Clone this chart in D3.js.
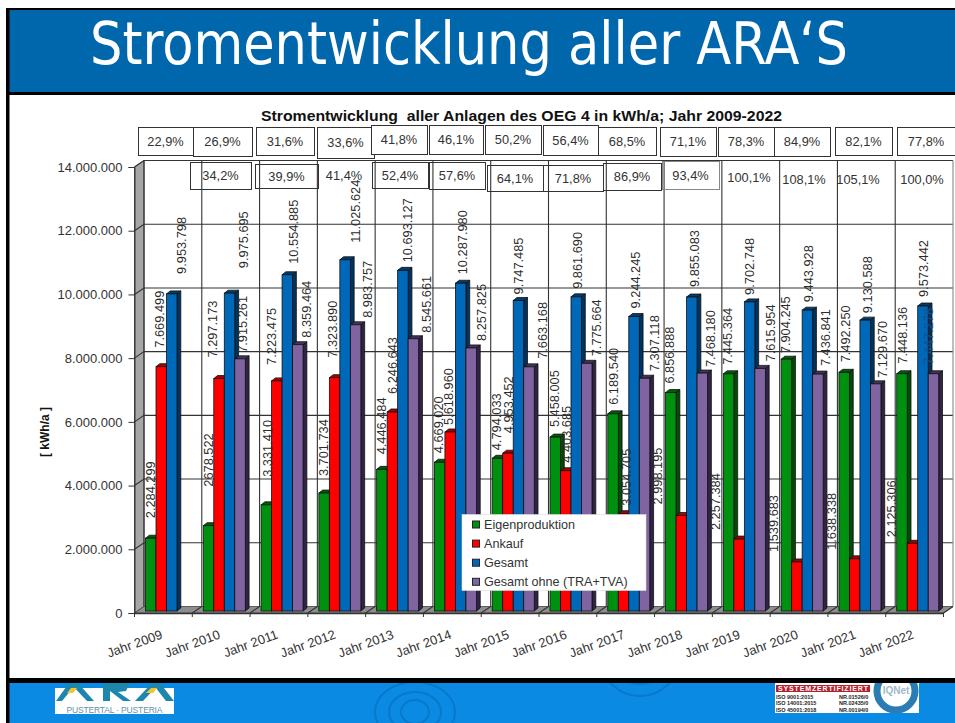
<!DOCTYPE html>
<html><head><meta charset="utf-8">
<script src="https://cdnjs.cloudflare.com/ajax/libs/d3/7.8.5/d3.min.js"></script>
<style>html,body{margin:0;padding:0;background:#fff;overflow:hidden}svg{display:block}text{font-family:"Liberation Sans",Arial,sans-serif}</style>
</head><body><svg id="c" width="955" height="723"></svg>
<script>
const categories = ["Jahr 2009","Jahr 2010","Jahr 2011","Jahr 2012","Jahr 2013","Jahr 2014","Jahr 2015","Jahr 2016","Jahr 2017","Jahr 2018","Jahr 2019","Jahr 2020","Jahr 2021","Jahr 2022"];
const seriesNames = ["Eigenproduktion","Ankauf","Gesamt","Gesamt ohne (TRA+TVA)"];
const eigenproduktion = [2284299,2678522,3331410,3701734,4446484,4669020,4794033,5458005,6189540,6856888,7445364,7904245,7492250,7448136];
const ankauf = [7669499,7297173,7223475,7323890,6246643,5618960,4953452,4403685,3054705,2998195,2257384,1539683,1638338,2125306];
const gesamt = [9953798,9975695,10554885,11025624,10693127,10287980,9747485,9861690,9244245,9855083,9702748,9443928,9130588,9573442];
const gesamtOhne = [null,7915261,8359464,8983757,8545661,8257825,7663168,7775664,7307118,7468180,7615954,7436841,7129670,7447278];
const valueTicks = [0,2000000,4000000,6000000,8000000,10000000,12000000,14000000];
const pctRow1 = ["22,9%","26,9%","31,6%","33,6%","41,8%","46,1%","50,2%","56,4%","68,5%","71,1%","78,3%","84,9%","82,1%","77,8%"];
const pctRow2 = ["34,2%","39,9%","41,4%","52,4%","57,6%","64,1%","71,8%","86,9%","93,4%","100,1%","108,1%","105,1%","100,0%"];
const chartTitle = "Stromentwicklung  aller Anlagen des OEG 4 in kWh/a; Jahr 2009-2022";
const slideTitle = "Stromentwicklung aller ARA‘S";

// ---- layout only (hand-placed annotations of the source slide) ----
const box1 = [[138,193,127,155],[193,252,127,156],[256,314,127,155],[317,374,127,158],[371,427,125,154],[429,483,125,154],[485,541,125,154],[543,598,125,155],[598,656,127,155],[660,716,127,156],[718,774,127,156],[774,830,127,156],[835,892,127,155],[897,955,127,155]];
const box2 = [[190,251,162,189,1],[255,318,164,188,1],[316,372,162,189,0],[372,428,162,188,1],[429,485,162,189,1],[487,543,165,191,1],[543,603,165,191,1],[603,661,163,190,1],[662,719,161,189,2],[721,777,163,191,0],[776,832,165,193,0],[830,886,165,193,0],[894,950,165,193,0]];
const labelDx = [
 [0,0,1,-1,-1,-1,-1,-1,0,-1,-1,-1,1,0],
 [-2,-7,-5,-2,0,-2,0,1,3,-24,-24,-24,-23,-21],
 [10,14,6,10,4,2,0,1,1,3,0,1,2,0],
 [0,2,9,12,13,10,13,10,10,8,10,7,7,-5]];
const labelGap = [
 [20,39,28,17,15,9,8,10,9,9,9,6,10,10],
 [19,21,16,20,18,7,20,8,8,11,9,10,9,6],
 [20,25,11,17,8,9,6,8,8,10,7,8,7,9],
 [0,6,7,7,6,7,8,7,7,6,7,8,6,9]];

const svg = d3.select("#c");
const series = [eigenproduktion, ankauf, gesamt, gesamtOhne];
const colors = [
 {f:"#009010",t:"#005c0a",s:"#004c08"},
 {f:"#ff0000",t:"#a80000",s:"#900000"},
 {f:"#0068b8",t:"#003c6c",s:"#003460"},
 {f:"#8064a2",t:"#44345c",s:"#302444"}];

// slide frame
svg.append("rect").attr("x",6).attr("y",8).attr("width",949).attr("height",715).attr("fill","#000");
svg.append("rect").attr("x",9.5).attr("y",10).attr("width",946).attr("height",82).attr("fill","#0067ac");
svg.append("rect").attr("x",9.5).attr("y",95).attr("width",946).attr("height",583).attr("fill","#fff");
svg.append("rect").attr("x",9.5).attr("y",683).attr("width",946).attr("height",40).attr("fill","#0a8ae2");
svg.append("text").text(slideTitle).attr("x",90).attr("y",64).attr("fill","#fff")
 .style("font-family","'DejaVu Sans Condensed','DejaVu Sans'").style("font-size","58px")
 .attr("textLength",758).attr("lengthAdjust","spacingAndGlyphs");

// footer ripples
svg.append("clipPath").attr("id","fc").append("rect").attr("x",9.5).attr("y",683).attr("width",946).attr("height",40);
const rip = svg.append("g").attr("clip-path","url(#fc)").attr("fill","none").attr("stroke","#0878cc");
[[415,712,14,12],[415,712,26,20],[415,712,40,30],[640,660,26,24],[640,660,38,36]].forEach(d=>{
 rip.append("ellipse").attr("cx",d[0]).attr("cy",d[1]).attr("rx",d[2]).attr("ry",d[3]).attr("stroke-width",2);});

// footer left logo
const lg = svg.append("g");
lg.append("rect").attr("x",55).attr("y",688).attr("width",119).attr("height",26).attr("fill","#fff");
[[56,701,62,701,77,683,69,683],[70,683,78,683,94,701,87,701],[103,701,110,701,110,683,103,683],
 [110,683,130,683,126,691,118,692,131,701,123,701,110,691],
 [135,701,143,701,160,683,152,683],[152,683,160,683,174,701,166,701]].forEach(p=>{
 lg.append("polygon").attr("points",p.join(",")).attr("fill","#1d86ac");});
lg.append("polygon").attr("points","67,693 73,693 77,688 71,688").attr("fill","#f4c430");
lg.append("polygon").attr("points","146,693 153,693 157,688 151,688").attr("fill","#f4c430");
lg.append("text").text("PUSTERTAL · PUSTERIA").attr("x",114.5).attr("y",713).attr("text-anchor","middle")
 .attr("fill","#5f93a8").style("font-size","8.5px").attr("textLength",96);

// footer right certificate
const ce = svg.append("g");
ce.append("rect").attr("x",775).attr("y",683).attr("width",144).attr("height",30).attr("fill","#fff");
ce.append("rect").attr("x",776).attr("y",685).attr("width",94).attr("height",7).attr("fill","#b3202c");
ce.append("text").text("SYSTEMZERTIFIZIERT").attr("x",823).attr("y",691).attr("text-anchor","middle").attr("fill","#fff")
 .style("font-size","7px").style("font-weight","bold").attr("textLength",90);
[["ISO 9001:2015","NR.01526/0",699],["ISO 14001:2015","NR.02435/0",705],["ISO 45001:2018","NR.00194/0",712]].forEach(r=>{
 ce.append("text").text(r[0]).attr("x",776).attr("y",r[2]).style("font-size","5.5px").style("font-weight","bold").attr("fill","#222");
 ce.append("text").text(r[1]).attr("x",839).attr("y",r[2]).style("font-size","5.5px").style("font-weight","bold").attr("fill","#222");
});
svg.append("clipPath").attr("id","cc").append("rect").attr("x",870).attr("y",683).attr("width",50).attr("height",31);
const ceg = ce.append("g").attr("clip-path","url(#cc)");
ceg.append("circle").attr("cx",896).attr("cy",691).attr("r",19).attr("fill","none").attr("stroke","#2a7cb4").attr("stroke-width",7);
ceg.append("text").text("IQNet").attr("x",896).attr("y",694).attr("text-anchor","middle").attr("fill","#9fb8cc").style("font-size","10px").style("font-weight","bold");

// scales
const frontX = 134.5, plotW = 809, depthX = 9.5, depthY = -6.5;
const x = d3.scaleBand().domain(categories).range([frontX, frontX+plotW]);
const y = d3.scaleLinear().domain([0,14000000]).range([613,167]);
const fmt = d3.formatLocale({decimal:",",thousands:".",grouping:[3],currency:["","€"]}).format(",d");
const barW = 10.5, barOff = 11, barDX = 3.8, barDY = 3, barLift = 2;

// chart title
svg.append("text").text(chartTitle).attr("x",521.5).attr("y",121).attr("text-anchor","middle")
 .attr("fill","#111").style("font-size","14.5px").style("font-weight","bold").style("white-space","pre")
 .attr("textLength",521).attr("lengthAdjust","spacingAndGlyphs");

// walls & floor
const [x0,x1] = x.range();
const y0 = y(0), yT = y(14000000);
svg.append("polygon").attr("points",[[x0,y0],[x0+depthX,y0+depthY],[x0+depthX,yT+depthY],[x0,yT]].join(" "))
 .attr("fill","#a6a6a6").attr("stroke","#444");
svg.append("polygon").attr("points",[[x0,y0],[x0+depthX,y0+depthY],[x1+depthX,y0+depthY],[x1,y0]].join(" "))
 .attr("fill","#8e8e8e").attr("stroke","#444").attr("stroke-width",.8);

// gridlines on back wall
const grid = svg.append("g").attr("stroke","#333").attr("stroke-width",1.1).attr("fill","none");
valueTicks.filter(d=>d>0).forEach(d=>{
 grid.append("path").attr("d",`M${x0},${y(d)}L${x0+depthX},${y(d)+depthY}H${x1+depthX}`);
});
categories.forEach(c=>{
 grid.append("line").attr("x1",x(c)+depthX).attr("x2",x(c)+depthX).attr("y1",yT+depthY).attr("y2",y0+depthY);
 if(c!==categories[0]) grid.append("line").attr("x1",x(c)).attr("x2",x(c)+depthX).attr("y1",y0).attr("y2",y0+depthY);
});
grid.append("line").attr("x1",x1+depthX).attr("x2",x1+depthX).attr("y1",yT+depthY).attr("y2",y0+depthY).attr("stroke","#888");
grid.append("line").attr("x1",x1).attr("x2",x1+depthX).attr("y1",y0).attr("y2",y0+depthY);

// axes
const yAxis = svg.append("g").attr("transform",`translate(${x0},0)`)
 .call(d3.axisLeft(y).tickValues(valueTicks).tickSize(6).tickFormat(d=>d===0?"0":fmt(d)));
yAxis.select(".domain").attr("stroke","#333");
yAxis.selectAll("line").attr("stroke","#333");
yAxis.selectAll("text").attr("fill","#333").attr("x",-12).style("font-size","13px").style("font-family","'Liberation Sans'");
const xAxis = svg.append("g").attr("transform",`translate(0,${y0})`)
 .call(d3.axisBottom(x).tickSize(0).tickFormat(d=>d));
xAxis.select(".domain").attr("stroke","#333").attr("stroke-width",1.4);
xAxis.selectAll("text").attr("fill","#333").attr("text-anchor","end").attr("y",0).attr("dy",0)
 .attr("transform",`translate(${x.bandwidth()/2-29},${25}) rotate(-20)`)
 .style("font-size","13px").style("font-family","'Liberation Sans'");
const xt = svg.append("g").attr("stroke","#333");
categories.concat(["end"]).forEach((c,i)=>{const px=x0+i*x.bandwidth();
 xt.append("line").attr("x1",px).attr("x2",px).attr("y1",y0).attr("y2",y0+4);});

svg.append("text").text("[ kWh/a ]").attr("transform","translate(49,432) rotate(-90)").attr("text-anchor","middle")
 .attr("fill","#111").style("font-size","12px").style("font-weight","bold");

// 3D bars
const barsG = svg.append("g");
const barX = (c,s)=> x(categories[c])+barOff+s*barW;
const barY = v => y(v)-barLift;
categories.forEach((cat,c)=>{
 series.forEach((arr,s)=>{
  const v = arr[c]; if(v==null) return;
  const l = barX(c,s), r = l+barW, t = barY(v), b = barY(0);
  const g = barsG.append("g").attr("stroke","#111").attr("stroke-width",.8);
  g.append("polygon").attr("points",[[r,t],[r+barDX,t-barDY],[r+barDX,b-barDY],[r,b]].join(" ")).attr("fill",colors[s].s);
  g.append("polygon").attr("points",[[l,t],[l+barDX,t-barDY],[r+barDX,t-barDY],[r,t]].join(" ")).attr("fill",colors[s].t);
  g.append("rect").attr("x",l).attr("y",t).attr("width",barW).attr("height",b-t).attr("fill",colors[s].f);
 });
});

// value labels
const labG = svg.append("g");
series.forEach((arr,s)=>{
 arr.forEach((v,c)=>{
  if(v==null) return;
  const px = barX(c,s)+barW/2+labelDx[s][c];
  const py = barY(v)-labelGap[s][c];
  labG.append("text").text(s===0&&c===1?"2678.522":fmt(v))
   .attr("transform",`translate(${px},${py}) rotate(-90)`).attr("dy","0.36em")
   .attr("fill",(s===3&&c===13)?"#15518f":"#2b2b2b").style("font-size","12.8px");
 });
});

// percentage boxes
const pG = svg.append("g");
pctRow1.forEach((t,i)=>{
 const b = box1[i];
 pG.append("rect").attr("x",b[0]+.5).attr("y",b[2]+.5).attr("width",b[1]-b[0]).attr("height",b[3]-b[2]).attr("fill","#fff").attr("stroke","#333");
 pG.append("text").text(t).attr("x",(b[0]+b[1])/2).attr("y",(b[2]+b[3])/2+4.8).attr("text-anchor","middle").attr("fill","#333").style("font-size","12.8px");
});
pctRow2.forEach((t,i)=>{
 const b = box2[i];
 if(b[4]) pG.append("rect").attr("x",b[0]+.5).attr("y",b[2]+.5).attr("width",b[1]-b[0]).attr("height",b[3]-b[2]).attr("fill","none").attr("stroke",b[4]===2?"#888":"#333");
 pG.append("text").text(t).attr("x",(b[0]+b[1])/2).attr("y",(b[2]+b[3])/2+4.8).attr("text-anchor","middle").attr("fill","#333").style("font-size","12.8px");
});

// legend
const lgd = svg.append("g");
lgd.append("rect").attr("x",462).attr("y",514.5).attr("width",184).attr("height",76).attr("fill","#fff").attr("stroke","#ddd").attr("stroke-width",.6);
seriesNames.forEach((n,i)=>{
 const ry = 524.5+i*19.1;
 lgd.append("rect").attr("x",472.5).attr("y",ry-3.5).attr("width",7).attr("height",7).attr("fill",colors[i].f).attr("stroke","#222").attr("stroke-width",1);
 lgd.append("text").text(n).attr("x",484).attr("y",ry+4.5).attr("fill","#333").style("font-size","12.6px");
});
</script></body></html>
